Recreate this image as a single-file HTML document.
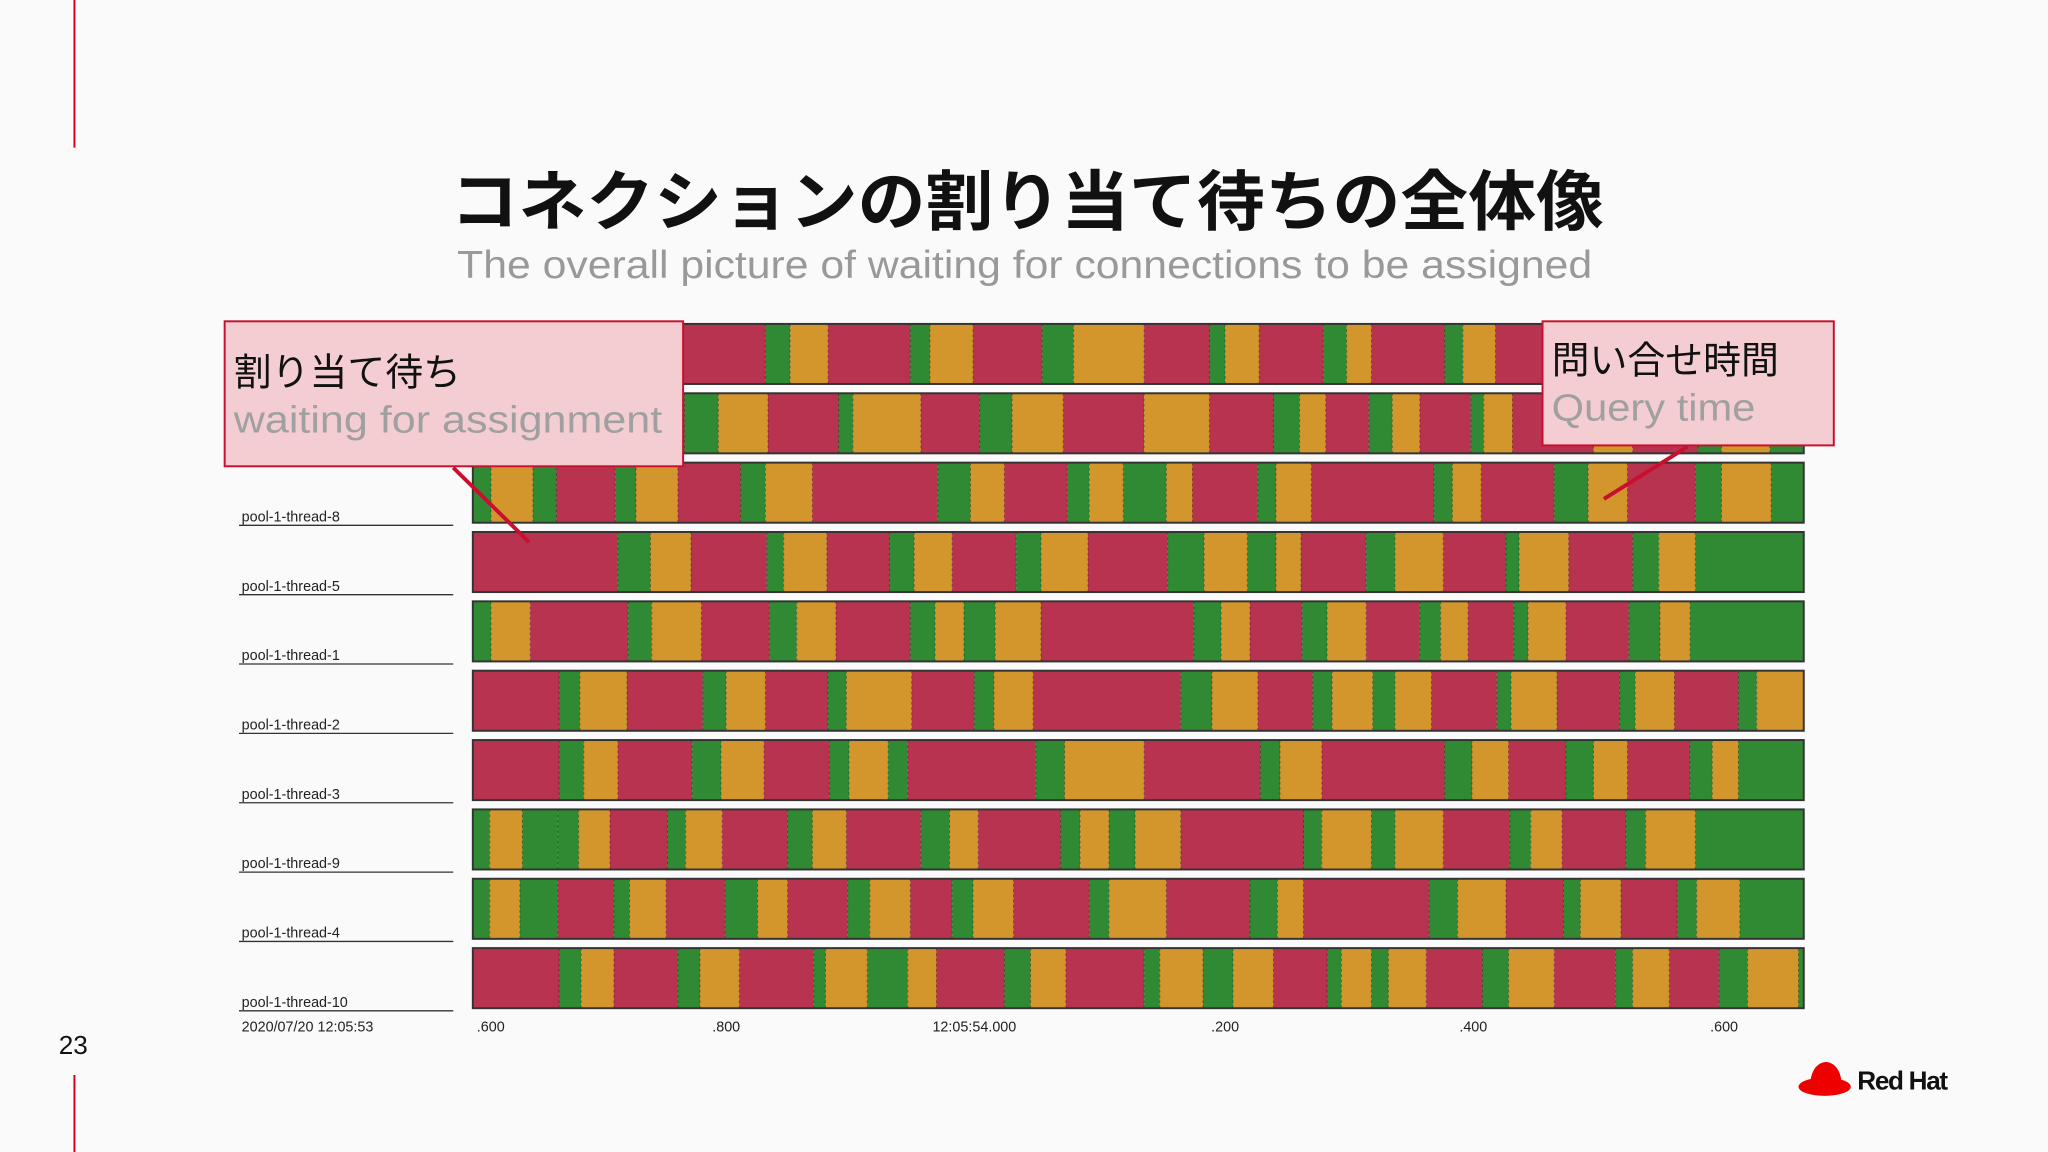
<!DOCTYPE html>
<html><head><meta charset="utf-8"><style>
html,body{margin:0;padding:0;background:#fafafa;}
svg{display:block;}
</style></head><body>
<svg id="chart" width="2048" height="1152" viewBox="0 0 1568 882" xmlns="http://www.w3.org/2000/svg" font-family="Liberation Sans, Noto Sans CJK JP, sans-serif">
<rect x="0" y="0" width="1568" height="882" fill="#fafafa"/>
<line x1="57" y1="0" x2="57" y2="113" stroke="#d0021b" stroke-width="1.5"/>
<line x1="57" y1="823" x2="57" y2="882" stroke="#d0021b" stroke-width="1.5"/>
<text x="345" y="172" textLength="883" lengthAdjust="spacingAndGlyphs" font-size="50" font-weight="bold" fill="#111" font-family="Liberation Sans, Noto Sans CJK JP, sans-serif">コネクションの割り当て待ちの全体像</text>
<text x="350" y="213" textLength="869" lengthAdjust="spacingAndGlyphs" font-size="30" fill="#999">The overall picture of waiting for connections to be assigned</text>
<text x="45" y="807" font-size="20" fill="#111">23</text>
<g id="plot"></g>
<g>
<line x1="347" y1="358" x2="405" y2="415" stroke="#c8102e" stroke-width="3"/>
<rect x="172" y="246" width="351" height="111" fill="#f3cdd1" stroke="#c8102e" stroke-width="1.5"/>
<text x="179" y="295" font-size="29" fill="#111">割り当て待ち</text>
<text x="179" y="331" textLength="328" lengthAdjust="spacingAndGlyphs" font-size="29" fill="#a0a0a0">waiting for assignment</text>
</g>
<g>
<line x1="1292" y1="342" x2="1228" y2="382" stroke="#c8102e" stroke-width="3"/>
<rect x="1181" y="246" width="223" height="95" fill="#f3cdd1" stroke="#c8102e" stroke-width="1.5"/>
<text x="1188" y="286" font-size="29" fill="#111">問い合せ時間</text>
<text x="1188" y="322" textLength="156" lengthAdjust="spacingAndGlyphs" font-size="29" fill="#a0a0a0">Query time</text>
</g>
<g>
<ellipse cx="1397" cy="832" rx="20" ry="7" fill="#e00"/>
<path d="M1386 828 Q1388 814 1398 813 Q1408 814 1410 828 Z" fill="#e00"/>
<text x="1422" y="834" font-size="20" font-weight="bold" fill="#111" letter-spacing="-1">Red Hat</text>
</g>
</svg>
<script>
// time domain in timeline units (approx 1.047 ms per unit)
const domainStart = 362, domainEnd = 1381;
const threadNames = ["", "", "pool-1-thread-8","pool-1-thread-5","pool-1-thread-1","pool-1-thread-2","pool-1-thread-3","pool-1-thread-9","pool-1-thread-4","pool-1-thread-10"];
const tickValues = [365,556,746,938,1128,1320];
const tickLabels = [".600",".800","12:05:54.000",".200",".400",".600"];
const startLabel = "2020/07/20 12:05:53";
// state codes: r=waiting, g=idle, y=query
const row0States = "rgyrgyrgyrgyrgyrgyrgyrgyg";
const row0Starts = [362,586,605,634,697,712,745,798,822,876,926,938,964,1013,1031,1050,1106,1120,1145,1200,1220,1250,1300,1320,1360];
const row1States = "rgyrgyrgyryrgyrgyrgyryrgyg";
const row1Starts = [362,524,550,588,642,653,705,750,775,814,876,926,975,995,1015,1048,1066,1087,1126,1136,1158,1220,1250,1300,1318,1355];
const row2States = "gygrgyrgyrgyrgygyrgyrgyrgyrgyg";
const row2Starts = [362,376,408,426,471,487,519,567,586,622,718,743,769,817,834,860,893,913,963,977,1004,1098,1112,1134,1190,1216,1246,1298,1318,1356];
const row3States = "rgyrgyrgyrgyrgygyrgyrgyrgyg";
const row3Starts = [362,473,498,529,587,600,633,681,700,729,778,797,833,894,922,955,977,996,1046,1068,1105,1153,1163,1201,1250,1270,1298];
const row4States = "gyrgyrgyrgygyrgyrgyrgyrgyrgyg";
const row4Starts = [362,376,406,481,499,537,589,610,640,697,716,738,762,797,914,935,957,997,1016,1046,1087,1103,1124,1159,1170,1199,1247,1271,1294];
const row5States = "rgyrgyrgyrgyrgyrgygyrgyrgyrgy";
const row5Starts = [362,428,444,480,538,556,586,634,648,698,746,761,791,904,928,963,1005,1020,1051,1068,1096,1146,1157,1192,1240,1252,1282,1331,1345];
const row6States = "rgyrgyrgygrgyrgyrgyrgyrgyg";
const row6Starts = [362,428,447,473,530,552,585,635,650,680,695,793,815,876,965,980,1012,1106,1127,1155,1199,1220,1246,1294,1311,1331];
const row7States = "gyggyrgyrgyrgyrgygyrgygyrgyrgyg";
const row7Starts = [362,375,400,427,443,467,511,525,553,603,622,648,705,727,749,812,827,849,869,904,998,1012,1050,1068,1105,1156,1172,1196,1245,1260,1298];
const row8States = "gygrgyrgyrgyrgyrgyrgyrgyrgyrgyg";
const row8Starts = [362,375,398,427,470,482,510,555,580,603,649,666,697,729,745,776,834,849,893,957,978,998,1094,1116,1153,1197,1210,1241,1284,1299,1332];
const row9States = "rgyrgyrgygyrgyrgygyrgygyrgyrgyrgyg";
const row9Starts = [362,428,445,470,519,536,566,623,632,664,695,717,769,789,816,876,888,921,944,975,1016,1027,1050,1063,1092,1135,1155,1190,1237,1250,1278,1316,1338,1377];

const rowsStates = [row0States,row1States,row2States,row3States,row4States,row5States,row6States,row7States,row8States,row9States];
const rowsStarts = [row0Starts,row1Starts,row2Starts,row3Starts,row4Starts,row5Starts,row6Starts,row7Starts,row8Starts,row9Starts];

const NS="http://www.w3.org/2000/svg";
const plot=document.getElementById('plot');
const X0=362,X1=1381,rowTop=248,rowStep=53.1,rowH=46;
function xs(v){return X0+(v-domainStart)/(domainEnd-domainStart)*(X1-X0);}
function ys(i){return rowTop+i*rowStep;}
const colors={r:"#b83350",g:"#2f8a33",y:"#d3962c"};
function mk(tag,attrs){const e=document.createElementNS(NS,tag);for(const k in attrs)e.setAttribute(k,attrs[k]);return e;}
rowsStates.forEach((st,i)=>{
  const starts=rowsStarts[i];
  const g=mk('g',{});
  
  
  for(let j=0;j<starts.length;j++){
    const a=xs(starts[j]), b=j+1<starts.length?xs(starts[j+1]):xs(domainEnd);
    const r=mk('rect',{x:a,y:ys(i),width:Math.max(0,b-a),height:rowH,fill:colors[st[j]]||colors.g});
    
    
    g.appendChild(r);
    if(j>0){const l=mk('line',{x1:a,y1:ys(i),x2:a,y2:ys(i)+rowH,stroke:"rgba(0,0,0,0.35)","stroke-width":0.8,"stroke-dasharray":"2,2"});g.appendChild(l);}
  }
  const border=mk('rect',{x:X0,y:ys(i),width:X1-X0,height:rowH,fill:"none",stroke:"#333","stroke-width":1.5});
  g.appendChild(border);
  plot.appendChild(g);
  if(threadNames[i]){
    const t=mk('text',{x:185,y:ys(i)+rowH-1,"font-size":11,fill:"#222"});
    t.textContent=threadNames[i];
    
    
    plot.appendChild(t);
    plot.appendChild(mk('line',{x1:183,y1:ys(i)+rowH+2,x2:347,y2:ys(i)+rowH+2,stroke:"#333","stroke-width":1}));
  }
});
const axisY=ys(9)+rowH+2;
const sl=mk('text',{x:185,y:axisY+16,"font-size":11,fill:"#222"});
sl.textContent=startLabel;


plot.appendChild(sl);
tickValues.forEach((v,k)=>{
  const t=mk('text',{x:xs(v),y:axisY+16,"font-size":11,fill:"#222","text-anchor":k===0?"start":"middle"});
  t.textContent=tickLabels[k];
  
  
  plot.appendChild(t);
});
</script>
</body></html>
